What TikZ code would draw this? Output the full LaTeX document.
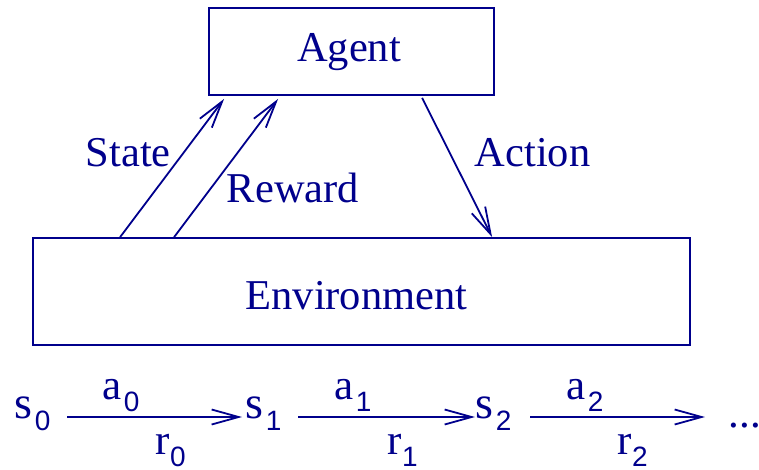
\documentclass[tikz,border=0pt]{standalone}
\usepackage{fontspec}
\setmainfont{Liberation Serif}
\newfontfamily\subf{Liberation Sans}
\usetikzlibrary{arrows.meta,calc}
\definecolor{ink}{RGB}{0,0,140}
\newcommand{\sbs}[1]{\lower12pt\hbox{\subf\fontsize{28}{32}\selectfont #1}}
\begin{document}
\begin{tikzpicture}[x=1pt,y=-1pt, line width=1.8pt, color=ink,
  box/.style={draw, rectangle, inner sep=0pt},
  lbl/.style={inner sep=0pt, anchor=base, font=\fontsize{42.5}{50}\selectfont},
  seq/.style={inner sep=0pt, anchor=base west, font=\fontsize{43}{50}\selectfont},
  sst/.style={inner sep=0pt, anchor=base west, font=\fontsize{46}{50}\selectfont},
  arr/.style={-{Straight Barb[length=27pt,width=15pt]}},
]
\useasboundingbox (0,0) rectangle (759,469);
% boxes
\node[box, minimum width=285pt, minimum height=87pt] (ag) at (351.5,51.5) {};
\node[box, minimum width=657pt, minimum height=107pt] (env) at (361.5,291.5) {};
\node[lbl] (agt) at (349,61) {Agent};
\node[lbl] (envt) at (356.5,309) {Environment};
% connectors
\draw[arr] ([xshift=88pt]env.north west) -- ([xshift=16pt,yshift=-3pt]ag.south west);
\draw[arr] ([xshift=142pt]env.north west) -- ([xshift=70pt,yshift=-3pt]ag.south west);
\draw[arr] ([xshift=214pt,yshift=-2pt]ag.south west) -- ([xshift=460pt]env.north west);
\node[lbl] (st) at (128.3,166.7) {State};
\node[lbl] (rw) at (293,202.7) {Reward};
\node[lbl] (ac) at (532.5,166.7) {Action};
% sequence
\node[sst] (s0) at (14,418) {s\kern2pt\sbs{0}};
\node[sst] (s1) at (245,418) {s\kern2pt\sbs{1}};
\node[sst] (s2) at (475,418) {s\kern2pt\sbs{2}};
\node[seq] (dots) at (728,427) {...};
\node[seq] (a0) at (102,399) {a\kern2pt\sbs{0}};
\node[seq] (a1) at (334,399) {a\kern2pt\sbs{1}};
\node[seq] (a2) at (566,399) {a\kern2pt\sbs{2}};
\node[seq] (r0) at (155,454) {r\kern0pt\sbs{0}};
\node[seq] (r1) at (387,454) {r\kern0pt\sbs{1}};
\node[seq] (r2) at (617,454) {r\kern0pt\sbs{2}};
\draw[arr] ($(s0.base west)+(53,-1)$) -- ($(s1.base west)+(-3,-1)$);
\draw[arr] ($(s1.base west)+(53,-1)$) -- ($(s2.base west)+(0,-1)$);
\draw[arr] ($(s2.base west)+(55,-1)$) -- ($(dots.base west)+(-23,-10)$);
\end{tikzpicture}
\end{document}
